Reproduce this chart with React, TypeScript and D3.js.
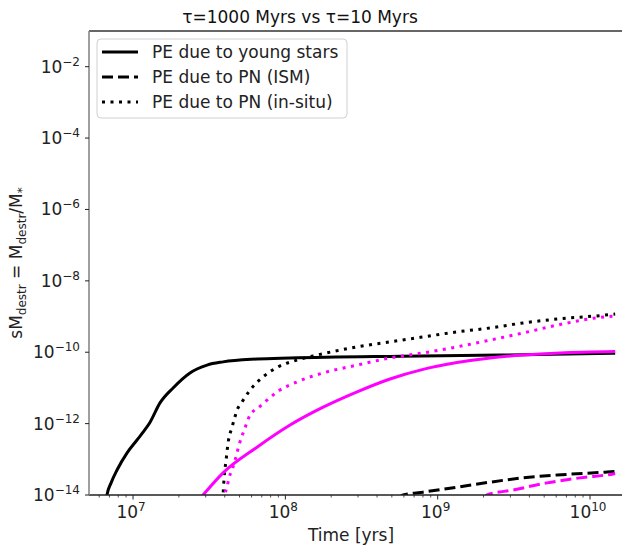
import React from "react";
import * as d3 from "d3";

// log10(time [yrs]) and log10(sM_destr)
const youngLogT = [6.82, 6.829, 6.856, 6.895, 6.961, 7.026, 7.066, 7.112, 7.177, 7.263, 7.374, 7.486, 7.591, 7.814, 8.031, 8.753, 9.41, 10.165];
const youngLogY = [-14.3, -14.0, -13.66, -13.3, -12.82, -12.46, -12.24, -11.96, -11.42, -11.0, -10.58, -10.36, -10.27, -10.19, -10.16, -10.11, -10.08, -10.03];

const ismLogT = [8.74, 8.773, 8.904, 9.127, 9.344, 9.561, 9.784, 10.099, 10.165];
const ismLogY = [-14.1, -14.0, -13.92, -13.78, -13.64, -13.52, -13.44, -13.36, -13.34];

const insituLogT = [7.585, 7.591, 7.598, 7.611, 7.624, 7.65, 7.663, 7.683, 7.716, 7.768, 7.854, 7.952, 8.077, 8.208, 8.471, 8.687, 8.904, 9.127, 9.344, 9.561, 9.784, 10.099, 10.165];
const insituLogY = [-14.4, -14.0, -13.52, -13.02, -12.54, -12.1, -11.9, -11.62, -11.39, -11.06, -10.69, -10.41, -10.22, -10.08, -9.85, -9.71, -9.57, -9.43, -9.32, -9.18, -9.07, -8.96, -8.93];

const youngLogT2 = [7.44, 7.46, 7.591, 7.814, 8.031, 8.248, 8.471, 8.687, 8.904, 9.127, 9.344, 9.561, 9.804, 10.165];
const youngLogY2 = [-14.1, -14.0, -13.38, -12.66, -12.04, -11.54, -11.11, -10.75, -10.48, -10.29, -10.16, -10.08, -10.02, -9.98];

const ismLogT2 = [9.3, 9.324, 9.495, 9.718, 9.935, 10.152, 10.165];
const ismLogY2 = [-14.1, -14.0, -13.86, -13.66, -13.52, -13.41, -13.4];

const insituLogT2 = [7.598, 7.604, 7.617, 7.63, 7.65, 7.67, 7.696, 7.735, 7.768, 7.821, 7.867, 7.946, 8.077, 8.248, 8.471, 8.687, 8.904, 9.127, 9.344, 9.561, 9.784, 10.099, 10.165];
const insituLogY2 = [-14.4, -14.0, -13.78, -13.52, -13.3, -13.02, -12.6, -12.12, -11.76, -11.56, -11.39, -11.11, -10.83, -10.58, -10.36, -10.16, -10.02, -9.85, -9.66, -9.46, -9.24, -9.01, -8.99];

const xTickExps = [7, 8, 9, 10];
const yTickExps = [-14, -12, -10, -8, -6, -4, -2];
const legendLabels = ["PE due to young stars", "PE due to PN (ISM)", "PE due to PN (in-situ)"];

const BLACK = "#000000";
const MAGENTA = "#ff00ff";
const DASH = "11,5";
const DOT = "3,5.5";

const series = [
  { t: youngLogT, y: youngLogY, color: BLACK, dash: null },
  { t: ismLogT, y: ismLogY, color: BLACK, dash: DASH },
  { t: insituLogT, y: insituLogY, color: BLACK, dash: DOT },
  { t: youngLogT2, y: youngLogY2, color: MAGENTA, dash: null },
  { t: ismLogT2, y: ismLogY2, color: MAGENTA, dash: DASH },
  { t: insituLogT2, y: insituLogY2, color: MAGENTA, dash: DOT },
];

const W = 622, H = 547;
const L = 89, R = 624, T = 31, B = 495;
const FONT = "'DejaVu Sans', sans-serif";

export default function App() {
  const x = d3.scaleLog().domain([Math.pow(10, 6.711), Math.pow(10, 10.223)]).range([L, R]);
  const y = d3.scaleLog().domain([1e-14, 1e-1]).range([B, T]);

  const line = d3
    .line<[number, number]>()
    .x((d) => x(Math.pow(10, d[0])))
    .y((d) => y(Math.pow(10, d[1])))
    .curve(d3.curveMonotoneX);

  const minorX: number[] = [];
  for (let e = 6; e <= 10; e++) {
    for (let m = 2; m <= 9; m++) {
      const v = m * Math.pow(10, e);
      const px = x(v);
      if (px >= L && px <= R) minorX.push(px);
    }
  }

  const legendDash = [null, DASH, DOT];

  return (
    <svg width={W} height={H} style={{ position: "absolute", left: 0, top: 0 }} fontFamily={FONT}>
      <defs>
        <clipPath id="plot">
          <rect x={L} y={T} width={R - L} height={B - T} />
        </clipPath>
      </defs>
      <rect x={0} y={0} width={W} height={H} fill="#fff" />
      <text x={300} y={23} fontSize={17} textAnchor="middle" fill="#111">
        τ=1000 Myrs vs τ=10 Myrs
      </text>

      <g clipPath="url(#plot)">
        {series.map((s, i) => (
          <path
            key={i}
            d={line(s.t.map((t, j) => [t, s.y[j]] as [number, number])) || ""}
            fill="none"
            stroke={s.color}
            strokeWidth={3}
            strokeDasharray={s.dash || undefined}
          />
        ))}
      </g>

      {/* frame */}
      <line x1={L} y1={T} x2={R} y2={T} stroke="#333" strokeWidth={1.3} />
      <line x1={L} y1={B} x2={R} y2={B} stroke="#222" strokeWidth={1.3} />
      <line x1={L} y1={T} x2={L} y2={B} stroke="#888" strokeWidth={1.6} />

      {/* x ticks */}
      {minorX.map((px, i) => (
        <line key={"mx" + i} x1={px} y1={B} x2={px} y2={B + 2.5} stroke="#222" strokeWidth={0.8} />
      ))}
      {xTickExps.map((e) => {
        const px = x(Math.pow(10, e));
        return (
          <g key={"x" + e}>
            <line x1={px} y1={B} x2={px} y2={B + 4.5} stroke="#222" strokeWidth={1} />
            <text x={px - 2} y={518} fontSize={17} textAnchor="middle" fill="#222">
              10
              <tspan dy={-7} fontSize={12}>
                {e}
              </tspan>
            </text>
          </g>
        );
      })}
      <text x={351} y={541} fontSize={17} textAnchor="middle" fill="#222">
        Time [yrs]
      </text>

      {/* y ticks */}
      {yTickExps.map((e) => {
        const py = y(Math.pow(10, e));
        return (
          <g key={"y" + e}>
            <line x1={L - 4} y1={py} x2={L} y2={py} stroke="#222" strokeWidth={1} />
            <text x={80} y={py + 6} fontSize={17} textAnchor="end" fill="#222">
              10
              <tspan dy={-7} fontSize={12}>
                {"\u2212" + Math.abs(e)}
              </tspan>
            </text>
          </g>
        );
      })}

      <text transform={`translate(22,${263}) rotate(-90)`} fontSize={17} textAnchor="middle" fill="#222">
        sM
        <tspan dy={4} fontSize={12}>destr</tspan>
        <tspan dy={-4}> = M</tspan>
        <tspan dy={4} fontSize={12}>destr</tspan>
        <tspan dy={-4}>/M</tspan>
        <tspan dy={4} fontSize={12}>*</tspan>
      </text>

      {/* legend */}
      <rect x={97} y={39} width={250} height={79} rx={4} fill="#fff" fillOpacity={0.8} stroke="#d0d0d0" strokeWidth={1} />
      {legendLabels.map((lab, i) => {
        const ly = 52 + i * 25;
        return (
          <g key={"lg" + i}>
            <line x1={102} y1={ly} x2={138} y2={ly} stroke={BLACK} strokeWidth={3} strokeDasharray={legendDash[i] || undefined} />
            <text x={152} y={ly + 6} fontSize={17} fill="#222">
              {lab}
            </text>
          </g>
        );
      })}
    </svg>
  );
}
